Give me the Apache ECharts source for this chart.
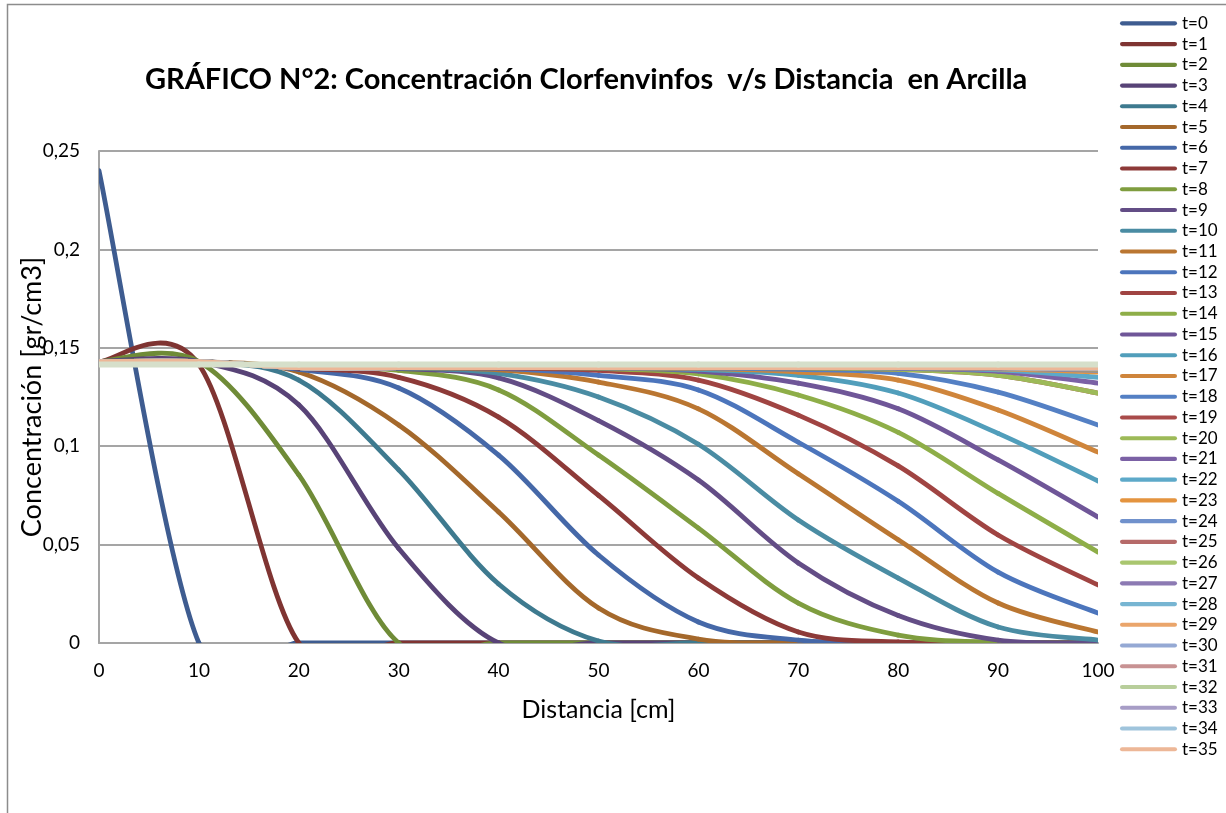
<!DOCTYPE html>
<html>
<head>
<meta charset="utf-8">
<script src="https://cdn.jsdelivr.net/npm/echarts@6/dist/echarts.min.js"></script>
<style>html,body{margin:0;padding:0;background:#fff;}#c{width:1226px;height:813px;}</style>
</head>
<body>
<div id="c"></div>
<script>
// Distance (cm) — x values of each data point
const distance = [0, 10, 20, 30, 40, 50, 60, 70, 80, 90, 100];
const yTicks = [0, 0.05, 0.1, 0.15, 0.2, 0.25];

// Concentration [gr/cm3] for each time step
const t0  = [0.24, 0, 0, 0, 0, 0, 0, 0, 0, 0, 0];
const t1  = [0.143, 0.1415, 0, 0, 0, 0, 0, 0, 0, 0, 0];
const t2  = [0.143, 0.143, 0.0854, 0, 0, 0, 0, 0, 0, 0, 0];
const t3  = [0.143, 0.143, 0.121, 0.048, 0, 0, 0, 0, 0, 0, 0];
const t4  = [0.143, 0.143, 0.1336, 0.088, 0.030, 0.001, 0, 0, 0, 0, 0];
const t5  = [0.143, 0.143, 0.1377, 0.1108, 0.0666, 0.0178, 0.002, 0, 0, 0, 0];
const t6  = [0.143, 0.143, 0.1390, 0.1296, 0.0955, 0.0447, 0.0107, 0.0015, 0, 0, 0];
const t7  = [0.143, 0.143, 0.1397, 0.135, 0.1148, 0.075, 0.033, 0.0056, 0.0005, 0, 0];
const t8  = [0.143, 0.143, 0.1399, 0.1385, 0.1286, 0.0955, 0.0584, 0.0203, 0.004, 0.0003, 0];
const t9  = [0.143, 0.143, 0.1399, 0.1395, 0.1347, 0.113, 0.0828, 0.0407, 0.014, 0.0015, 0];
const t10 = [0.143, 0.143, 0.1399, 0.1398, 0.137, 0.125, 0.101, 0.0625, 0.033, 0.0081, 0.0015];
const t11 = [0.143, 0.143, 0.1399, 0.1399, 0.1388, 0.1326, 0.119, 0.086, 0.0525, 0.0203, 0.0056];
const t12 = [0.143, 0.143, 0.1399, 0.1399, 0.1395, 0.136, 0.1286, 0.102, 0.072, 0.036, 0.0152];
const t13 = [0.143, 0.143, 0.1399, 0.1399, 0.1398, 0.1385, 0.1336, 0.1158, 0.090, 0.0549, 0.0295];
const t14 = [0.143, 0.143, 0.1399, 0.1399, 0.1399, 0.1395, 0.1367, 0.126, 0.107, 0.076, 0.0462];
const t15 = [0.143, 0.143, 0.1399, 0.1399, 0.1399, 0.1398, 0.1382, 0.132, 0.119, 0.093, 0.064];
const t16 = [0.143, 0.143, 0.1399, 0.1399, 0.1399, 0.1399, 0.139, 0.136, 0.127, 0.1065, 0.0823];
const t17 = [0.143, 0.143, 0.1399, 0.1399, 0.1399, 0.1399, 0.1395, 0.1377, 0.1336, 0.1184, 0.097];
const t18 = [0.143, 0.143, 0.1399, 0.1399, 0.1399, 0.1399, 0.1398, 0.139, 0.137, 0.1275, 0.1108];
const t19 = [0.143, 0.143, 0.1399, 0.1399, 0.1399, 0.1399, 0.1399, 0.1398, 0.139, 0.136, 0.127];
const t20 = [0.143, 0.143, 0.1399, 0.1399, 0.1399, 0.1399, 0.1399, 0.1398, 0.139, 0.136, 0.127];
const t21 = [0.143, 0.143, 0.1399, 0.1399, 0.1399, 0.1399, 0.1399, 0.1399, 0.1396, 0.138, 0.132];
const t22 = [0.143, 0.143, 0.1399, 0.1399, 0.1399, 0.1399, 0.1399, 0.1399, 0.1398, 0.1388, 0.135];
const t23 = [0.143, 0.143, 0.1399, 0.1399, 0.1399, 0.1399, 0.1399, 0.1399, 0.1399, 0.1393, 0.1377];
const t24 = [0.143, 0.143, 0.1399, 0.1399, 0.1399, 0.1399, 0.1399, 0.1399, 0.1399, 0.1396, 0.1385];
const t25 = [0.143, 0.143, 0.1399, 0.1399, 0.1399, 0.1399, 0.1399, 0.1399, 0.1399, 0.1397, 0.139];
const t26 = [0.143, 0.143, 0.1399, 0.1399, 0.1399, 0.1399, 0.1399, 0.1399, 0.1399, 0.1398, 0.1392];
const t27 = [0.143, 0.143, 0.1399, 0.1399, 0.1399, 0.1399, 0.1399, 0.1399, 0.1399, 0.1398, 0.1394];
const t28 = [0.143, 0.143, 0.1399, 0.1399, 0.1399, 0.1399, 0.1399, 0.1399, 0.1399, 0.1399, 0.1395];
const t29 = [0.143, 0.143, 0.1399, 0.1399, 0.1399, 0.1399, 0.1399, 0.1399, 0.1399, 0.1399, 0.1396];
const t30 = [0.143, 0.143, 0.1399, 0.1399, 0.1399, 0.1399, 0.1399, 0.1399, 0.1399, 0.1399, 0.1397];
const t31 = [0.143, 0.143, 0.1399, 0.1399, 0.1399, 0.1399, 0.1399, 0.1399, 0.1399, 0.1399, 0.1397];
const t32 = [0.143, 0.143, 0.1399, 0.1399, 0.1399, 0.1399, 0.1399, 0.1399, 0.1399, 0.1399, 0.1398];
const t33 = [0.143, 0.143, 0.1399, 0.1399, 0.1399, 0.1399, 0.1399, 0.1399, 0.1399, 0.1399, 0.1398];
const t34 = [0.143, 0.143, 0.1399, 0.1399, 0.1399, 0.1399, 0.1399, 0.1399, 0.1399, 0.1399, 0.1398];
const t35 = [0.143, 0.143, 0.1399, 0.1399, 0.1399, 0.1399, 0.1399, 0.1399, 0.1399, 0.1399, 0.1398];
// Equilibrium band drawn over everything (no legend entry)
const bandValues = [0.1415, 0.1415, 0.1415, 0.1415, 0.1415, 0.1415, 0.1415, 0.1415, 0.1415, 0.1415, 0.1415];

const seriesNames = ['t=0','t=1','t=2','t=3','t=4','t=5','t=6','t=7','t=8','t=9','t=10','t=11','t=12','t=13','t=14','t=15','t=16','t=17','t=18','t=19','t=20','t=21','t=22','t=23','t=24','t=25','t=26','t=27','t=28','t=29','t=30','t=31','t=32','t=33','t=34','t=35'];
const seriesValues = [t0,t1,t2,t3,t4,t5,t6,t7,t8,t9,t10,t11,t12,t13,t14,t15,t16,t17,t18,t19,t20,t21,t22,t23,t24,t25,t26,t27,t28,t29,t30,t31,t32,t33,t34,t35];

const colors = ['#3E5C90','#7F3432','#6F8B37','#584377','#3E7A8F','#A4682B',
                '#4568A8','#8D3A38','#7F9D3F','#634D86','#4A8CA3','#BA7631',
                '#4C75BC','#A04442','#8EAE48','#6F5698','#519EBB','#CF853B',
                '#5480C4','#A94B4A','#9DBA58','#7B61A5','#5DA9C9','#E4943F',
                '#7091CC','#B66A69','#A9C66F','#8C7AB3','#77B5D2','#EAA56B',
                '#95A9D4','#C89293','#B8CE9B','#A79DC6','#9FC4DC','#EDB797'];
const bandColor = '#D6DFCA';

const FONT = 'Lato';

// Excel-style smoothed line: cubic Bezier segments with Catmull-Rom control points (1/6)
function smoothSeries(name, values, color, width) {
  const n = values.length;
  return {
    type: 'custom',
    name: name,
    coordinateSystem: 'cartesian2d',
    clip: true,
    silent: true,
    itemStyle: { color: color },
    encode: { x: 0, y: 1 },
    data: distance.map((x, i) => [x, values[i]]),
    renderItem: function (params, api) {
      const i = params.dataIndex;
      if (i >= n - 1) return null;
      const P = k => {
        const j = Math.max(0, Math.min(n - 1, k));
        return api.coord([distance[j], values[j]]);
      };
      const p0 = P(i - 1), p1 = P(i), p2 = P(i + 1), p3 = P(i + 2);
      return {
        type: 'bezierCurve',
        shape: {
          x1: p1[0], y1: p1[1], x2: p2[0], y2: p2[1],
          cpx1: p1[0] + (p2[0] - p0[0]) / 6, cpy1: p1[1] + (p2[1] - p0[1]) / 6,
          cpx2: p2[0] - (p3[0] - p1[0]) / 6, cpy2: p2[1] - (p3[1] - p1[1]) / 6
        },
        style: { stroke: color, fill: null, lineWidth: width, lineCap: 'round', lineJoin: 'round' }
      };
    }
  };
}

const series = seriesValues.map((v, k) => smoothSeries(seriesNames[k], v, colors[k], 4.8));
series.push(smoothSeries('band', bandValues, bandColor, 6));

const chart = echarts.init(document.getElementById('c'), null, { renderer: 'canvas' });
chart.setOption({
  animation: false,
  backgroundColor: '#fff',
  textStyle: { fontFamily: FONT },
  title: {
    text: 'GRÁFICO N°2: Concentración Clorfenvinfos  v/s Distancia  en Arcilla',
    left: 145, top: 65, padding: 0,
    textStyle: { fontFamily: FONT, fontSize: 29, fontWeight: 'bold', color: '#000' }
  },
  graphic: [{
    type: 'rect', left: 5, top: 2, silent: true,
    shape: { x: 0, y: 0, width: 1300, height: 900 },
    style: { fill: null, stroke: '#8C8C8C', lineWidth: 1.5 }
  }],
  legend: {
    orient: 'vertical', left: 1120, top: 13, padding: 0,
    data: seriesNames,
    itemWidth: 57, itemHeight: 5, itemGap: 0, itemTextGap: 3,
    icon: 'path://M2,0 L54,0 A2,2 0 0 1 54,4 L2,4 A2,2 0 0 1 2,0 Z',
    textStyle: { fontFamily: FONT, fontSize: 17, color: '#000', lineHeight: 20.74 },
    selectedMode: false
  },
  grid: { left: 99, right: 128, top: 151, bottom: 170, containLabel: false, outerBoundsMode: 'none' },
  xAxis: {
    type: 'value', min: 0, max: 100, interval: 10,
    name: 'Distancia [cm]', nameLocation: 'middle', nameGap: 54,
    nameTextStyle: { fontFamily: FONT, fontSize: 25, color: '#000' },
    axisLine: { lineStyle: { color: '#A5A5A5', width: 2 } },
    axisTick: { show: false },
    axisLabel: { margin: 18, fontFamily: FONT, fontSize: 19, color: '#000' },
    splitLine: { show: false }
  },
  yAxis: {
    type: 'value', min: 0, max: 0.25, interval: 0.05,
    name: 'Concentración [gr/cm3]', nameLocation: 'middle', nameGap: 53,
    nameMoveOverlap: false,
    nameTextStyle: { fontFamily: FONT, fontSize: 27, color: '#000' },
    axisLine: { show: true, lineStyle: { color: '#A5A5A5', width: 2 } },
    axisTick: { show: false },
    axisLabel: {
      margin: 19, fontFamily: FONT, fontSize: 19, color: '#000',
      formatter: v => {
        const t = yTicks.find(y => Math.abs(y - v) < 1e-9);
        return String(+(t !== undefined ? t : v).toFixed(2)).replace('.', ',');
      }
    },
    splitLine: { lineStyle: { color: '#A5A5A5', width: 2 } }
  },
  series: series
});
</script>
</body>
</html>
